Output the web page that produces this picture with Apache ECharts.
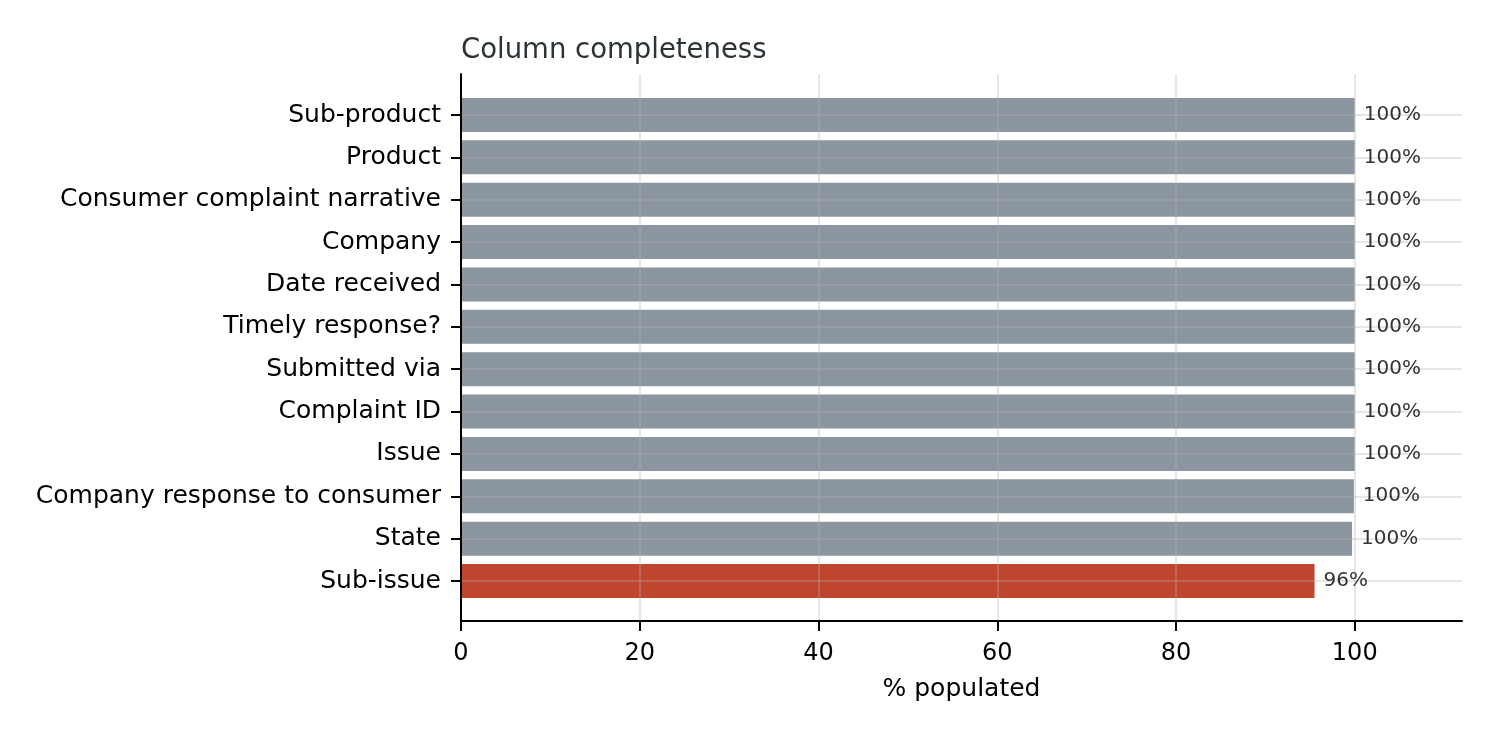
<!DOCTYPE html>
<html>
<head>
<meta charset="utf-8">
<script src="https://cdn.jsdelivr.net/npm/echarts@6/dist/echarts.min.js"></script>
<style>
html,body{margin:0;padding:0;background:#fff;}
#chart{width:1498px;height:737px;}
</style>
</head>
<body>
<div id="chart"></div>
<script>
const categories = ['Sub-product','Product','Consumer complaint narrative','Company','Date received','Timely response?','Submitted via','Complaint ID','Issue','Company response to consumer','State','Sub-issue'];
const values = [100, 100, 100, 100, 100, 100, 100, 100, 100, 99.9, 99.7, 95.5];
const xTicks = [0, 20, 40, 60, 80, 100];

const GRAY = '#8b96a0';
const RED = '#c0452f';
const GRID = 'rgba(176,176,176,0.32)';
const FONT = 'DejaVu Sans';

const chart = echarts.init(document.getElementById('chart'));
chart.setOption({
  animation: false,
  textStyle: { fontFamily: FONT },
  title: {
    text: 'Column completeness',
    left: 456, top: 32,
    textStyle: { fontFamily: FONT, fontSize: 27.5, fontWeight: 'normal', color: '#2d3436' }
  },
  grid: [
    { left: 461, right: 36, top: 74, bottom: 116 },
    { left: 461, right: 36, top: 115, bottom: 156 }
  ],
  xAxis: [
    {
      gridIndex: 0, type: 'value', min: 0, max: 112, interval: 20, z: 3,
      name: '% populated', nameLocation: 'middle', nameGap: 56,
      nameTextStyle: { fontFamily: FONT, fontSize: 25, color: '#000' },
      axisLine: { show: true, lineStyle: { color: '#000', width: 2 } },
      axisTick: { show: true, length: 10, lineStyle: { color: '#000', width: 2 }, customValues: xTicks },
      axisLabel: { fontFamily: FONT, fontSize: 24, color: '#000', margin: 21, customValues: xTicks },
      splitLine: { show: true, lineStyle: { color: GRID, width: 2 } }
    },
    {
      gridIndex: 1, type: 'value', min: 0, max: 112, show: false,
      splitLine: { show: false }
    }
  ],
  yAxis: [
    {
      gridIndex: 0, type: 'value', min: 0, max: 1, z: 3,
      axisLine: { show: true, lineStyle: { color: '#000', width: 2 } },
      axisTick: { show: false }, axisLabel: { show: false }, splitLine: { show: false }
    },
    {
      gridIndex: 1, type: 'category', data: categories, inverse: true, boundaryGap: false, z: 3,
      axisLine: { show: false },
      axisTick: { show: true, length: 10, interval: 0, lineStyle: { color: '#000', width: 2 } },
      axisLabel: { fontFamily: FONT, fontSize: 25, color: '#000', margin: 20, interval: 0, padding: [8, 0, 0, 0] },
      splitLine: { show: true, interval: 0, lineStyle: { color: GRID, width: 2 } }
    }
  ],
  series: [
    {
      type: 'bar', xAxisIndex: 1, yAxisIndex: 1, barWidth: 34, clip: false, z: 2,
      data: values.map((v, i) => ({ value: v, itemStyle: { color: i === values.length - 1 ? RED : GRAY } }))
    },
    {
      type: 'bar', xAxisIndex: 1, yAxisIndex: 1, barWidth: 34, barGap: '-100%', clip: false, z: 5,
      silent: true,
      itemStyle: { color: 'rgba(0,0,0,0)' },
      label: {
        show: true, position: 'right', distance: 9, padding: [4, 0, 0, 0],
        fontFamily: FONT, fontSize: 20, color: '#333',
        formatter: p => Math.round(p.value) + '%'
      },
      data: values
    }
  ]
});
</script>
</body>
</html>
